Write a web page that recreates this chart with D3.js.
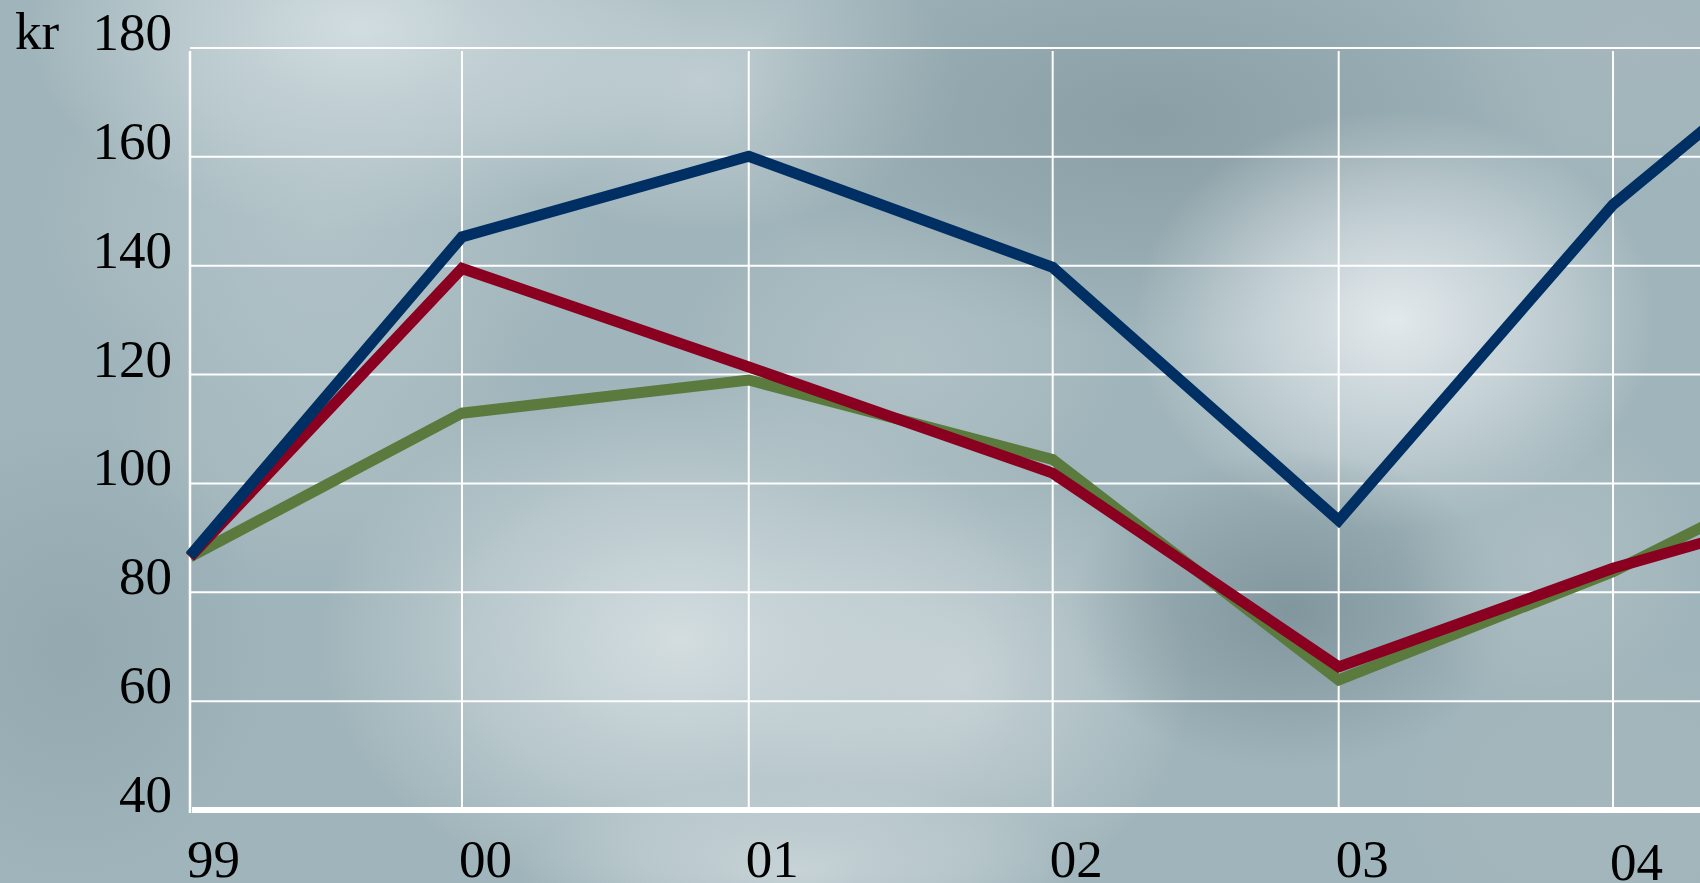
<!DOCTYPE html>
<html>
<head>
<meta charset="utf-8">
<script src="https://cdn.jsdelivr.net/npm/d3@7"></script>
<style>
  html, body { margin: 0; padding: 0; background: #a0b5bb; }
  svg { display: block; }
  text { font-family: "Liberation Serif", "Times New Roman", serif; fill: #000; }
</style>
</head>
<body>
<svg id="chart" width="1700" height="883"></svg>
<script>
// ---- data ----
const periods = ["1999-01-01", "1999-12-16", "2000-12-18", "2002-01-12", "2003-01-14", "2004-01-01", "2004-12-19"];
const tickLabels = ["99", "00", "01", "02", "03", "04"];
const seriesBlue  = [86.7, 145.3, 160.1, 139.7, 93.2, 151.2, 193.0];
const seriesRed   = [86.5, 139.5, 121.4, 101.9, 66.3, 84.4, 98.9];
const seriesGreen = [86.5, 112.9, 119.0, 104.4, 63.9, 83.8, 109.0];
const yTicks = [40, 60, 80, 100, 120, 140, 160, 180];
const yUnit = "kr";

// ---- layout / style ----
const W = 1700, H = 883;
const margin = { top: 48, left: 190, bottomY: 810 };
const parse = d3.timeParse("%Y-%m-%d");
const dates = periods.map(parse);

const svg = d3.select("#chart");
const defs = svg.append("defs");

// background clouds (decoration)
const blobs = [
  { cx: 360, cy: 30,  rx: 330, ry: 200, c: "#dbe4e7", o: 0.85 },
  { cx: 700, cy: 80,  rx: 260, ry: 150, c: "#cdd8db", o: 0.7 },
  { cx: 320, cy: 220, rx: 280, ry: 200, c: "#c2d0d4", o: 0.55 },
  { cx: 330, cy: 420, rx: 220, ry: 160, c: "#b9c9ce", o: 0.45 },
  { cx: 1150, cy: 120, rx: 420, ry: 220, c: "#82979e", o: 0.75 },
  { cx: 1640, cy: 40, rx: 200, ry: 140, c: "#a9b8bd", o: 0.6 },
  { cx: 1395, cy: 320, rx: 260, ry: 210, c: "#e6ebee", o: 0.95 },
  { cx: 680, cy: 640, rx: 360, ry: 260, c: "#d6dfe2", o: 0.95 },
  { cx: 960, cy: 680, rx: 230, ry: 220, c: "#d0d9dc", o: 0.75 },
  { cx: 1290, cy: 610, rx: 220, ry: 160, c: "#7a8e95", o: 0.8 },
  { cx: 70,  cy: 650, rx: 200, ry: 230, c: "#8ea3aa", o: 0.7 },
  { cx: 800, cy: 870, rx: 280, ry: 90, c: "#d3dcdf", o: 0.75 },
  { cx: 1600, cy: 800, rx: 200, ry: 150, c: "#a8b8bd", o: 0.5 },
  { cx: 900, cy: 360, rx: 220, ry: 160, c: "#c0cdd1", o: 0.5 },
  { cx: 1550, cy: 560, rx: 150, ry: 150, c: "#b8c6cb", o: 0.5 }
];
blobs.forEach((b, i) => {
  const g = defs.append("radialGradient").attr("id", "blob" + i);
  g.append("stop").attr("offset", "0%").attr("stop-color", b.c).attr("stop-opacity", b.o);
  g.append("stop").attr("offset", "60%").attr("stop-color", b.c).attr("stop-opacity", b.o * 0.45);
  g.append("stop").attr("offset", "100%").attr("stop-color", b.c).attr("stop-opacity", 0);
});
svg.append("rect").attr("width", W).attr("height", H).attr("fill", "#a0b5bb");
svg.append("g").selectAll("ellipse").data(blobs).join("ellipse")
  .attr("cx", d => d.cx).attr("cy", d => d.cy)
  .attr("rx", d => d.rx).attr("ry", d => d.ry)
  .attr("fill", (d, i) => `url(#blob${i})`);

// scales
const x = d3.scaleTime()
  .domain([parse("1999-01-01"), parse("2004-01-01")])
  .range([margin.left, 1613]);
const y = d3.scaleLinear().domain([40, 180]).range([margin.bottomY, margin.top]);

const gridColor = "#ffffff";

// horizontal gridlines
svg.append("g").selectAll("line").data(yTicks.filter(v => v > 40)).join("line")
  .attr("x1", margin.left).attr("x2", W)
  .attr("y1", d => y(d)).attr("y2", d => y(d))
  .attr("stroke", gridColor).attr("stroke-width", 2);

// vertical gridlines at each period (tick)
const tickDates = dates.slice(1, tickLabels.length);
svg.append("g").selectAll("line").data(tickDates).join("line")
  .attr("x1", d => x(d)).attr("x2", d => x(d))
  .attr("y1", margin.top + 3).attr("y2", margin.bottomY)
  .attr("stroke", gridColor).attr("stroke-width", 2);

// left axis line
svg.append("line")
  .attr("x1", margin.left).attr("x2", margin.left)
  .attr("y1", margin.top + 3).attr("y2", margin.bottomY + 3)
  .attr("stroke", gridColor).attr("stroke-width", 2.5);

// bottom axis thick line
svg.append("line")
  .attr("x1", margin.left + 2).attr("x2", W)
  .attr("y1", y(40)).attr("y2", y(40))
  .attr("stroke", gridColor).attr("stroke-width", 6);

// y labels
svg.append("g").selectAll("text").data(yTicks).join("text")
  .attr("x", 172).attr("y", d => y(d) + 2)
  .attr("text-anchor", "end")
  .attr("font-size", 53)
  .text(d => d);
svg.append("text").attr("x", 15).attr("y", y(180) + 1).attr("font-size", 53).text(yUnit);

// x labels
svg.append("g").selectAll("text").data(tickLabels).join("text")
  .attr("x", (d, i) => x(dates[i]) - 3)
  .attr("y", (d, i) => 877 + (i === tickLabels.length - 1 ? 3 : 0))
  .attr("text-anchor", "start")
  .attr("font-size", 53)
  .text(d => d);

// lines
const line = d3.line().x((d, i) => x(dates[i])).y(d => y(d));
const series = [
  { values: seriesGreen, color: "#5a7a3e" },
  { values: seriesRed,   color: "#8a0020" },
  { values: seriesBlue,  color: "#002f63" }
];
svg.append("g").selectAll("path").data(series).join("path")
  .attr("d", d => line(d.values))
  .attr("fill", "none")
  .attr("stroke", d => d.color)
  .attr("stroke-width", 11)
  .attr("stroke-linejoin", "miter")
  .attr("stroke-linecap", "butt");
</script>
</body>
</html>
